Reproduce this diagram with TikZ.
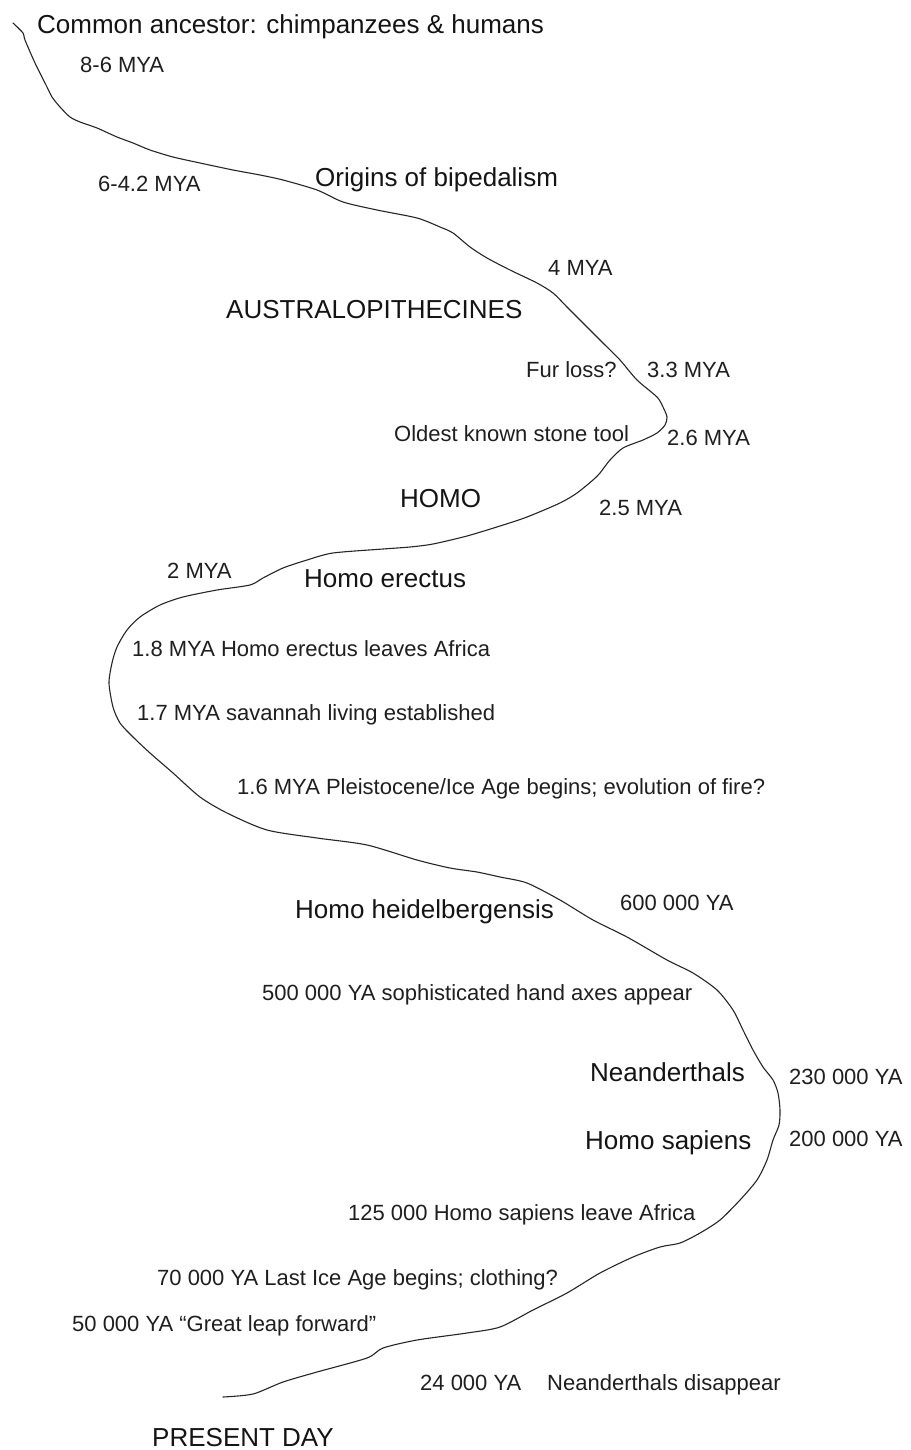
\documentclass[tikz,border=0pt]{standalone}
\usepackage{fontspec}
\setmainfont{Liberation Sans}
\begin{document}
\begin{tikzpicture}[x=1pt,y=-1pt,
  big/.style={anchor=base west,inner sep=0pt,text=black!92,font=\fontsize{26}{30}\selectfont},
  small/.style={anchor=base west,inner sep=0pt,text=black!88,font=\fontsize{22}{26}\selectfont},
  timeline/.style={draw=black!85,line width=1.1pt,line join=round,line cap=round}]
\path[use as bounding box,fill=white] (0,0) rectangle (910,1450);

% the winding path of human evolution, from the common ancestor down to the present day
\draw[timeline] plot[smooth,tension=0.45] coordinates {
 (13,23) (23,33) (25,40) (35,63) (47,87) (52,97) (60,107) (70,117) (80,122)
 (97,128) (117,137) (133,143) (150,150) (173,157) (200,163) (233,170) (260,175)
 (283,180) (317,190) (343,202) (377,210) (417,218) (440,227) (453,233) (470,247)
 (487,258) (510,270) (537,283) (553,293) (567,307) (583,323) (603,343) (620,360)
 (637,380) (657,397) (663,407) (667,417) (665,425) (657,433) (643,440) (623,448)
 (610,460) (600,473) (593,480) (577,493) (560,503) (527,517) (500,526) (467,536)
 (433,544) (410,547) (383,549) (333,553) (307,560) (283,568) (263,578) (250,585)
 (217,590) (183,597) (160,605) (140,617) (127,630) (117,647) (112,663) (109,683)
 (113,707) (120,723) (133,737) (150,753) (173,773) (200,797) (227,813) (267,830)
 (317,838) (367,845) (417,860) (450,868) (477,872) (500,877) (527,883) (560,900)
 (593,920) (627,937) (667,960) (693,973) (717,990) (733,1010) (743,1030)
 (753,1050) (763,1067) (773,1080) (778,1093) (780,1110) (779,1125) (773,1140)
 (767,1160) (757,1180) (740,1200) (720,1220) (700,1233) (680,1243) (660,1247)
 (633,1257) (600,1273) (567,1293) (533,1310) (500,1327) (467,1333) (417,1340)
 (383,1348) (367,1358) (317,1372) (283,1382) (253,1394) (223,1397)};

% headings
\node[big] (ancestor) at (37,33.5) {Common ancestor: chimpanzees \& humans};
\node[big] (bipedal) at (315,186) {Origins of bipedalism};
\node[big] (austral) at (226,318) {AUSTRALOPITHECINES};
\node[big] (homo) at (400,507) {HOMO};
\node[big] (erectus) at (304,587) {Homo erectus};
\node[big] (heidel) at (295,918) {Homo heidelbergensis};
\node[big] (neander) at (590,1081) {Neanderthals};
\node[big] (sapiens) at (585,1149) {Homo sapiens};
\node[big] (present) at (152,1446) {PRESENT DAY};

% dates and events
\node[small] (t86) at (80,73) {8-6 MYA};
\node[small] (t642) at (98,192) {6-4.2 MYA};
\node[small] (t4) at (548,275) {4 MYA};
\node[small] (fur) at (526,377) {Fur loss?};
\node[small] (t33) at (647,377) {3.3 MYA};
\node[small] (tool) at (394,441) {Oldest known stone tool};
\node[small] (t26) at (667,445) {2.6 MYA};
\node[small] (t25) at (599,515) {2.5 MYA};
\node[small] (t2) at (167,578) {2 MYA};
\node[small] (t18) at (132,656) {1.8 MYA Homo erectus leaves Africa};
\node[small] (t17) at (137,720) {1.7 MYA savannah living established};
\node[small] (t16) at (237,794) {1.6 MYA Pleistocene/Ice Age begins; evolution of fire?};
\node[small] (t600) at (620,910) {600 000 YA};
\node[small] (t500) at (262,1000) {500 000 YA sophisticated hand axes appear};
\node[small] (t230) at (789,1084) {230 000 YA};
\node[small] (t200) at (789,1146) {200 000 YA};
\node[small] (t125) at (348,1220) {125 000 Homo sapiens leave Africa};
\node[small] (t70) at (157,1285) {70 000 YA Last Ice Age begins; clothing?};
\node[small] (t50) at (72,1331) {50 000 YA “Great leap forward”};
\node[small] (t24) at (420,1390) {24 000 YA};
\node[small] (gone) at (547,1390) {Neanderthals disappear};
\end{tikzpicture}
\end{document}
